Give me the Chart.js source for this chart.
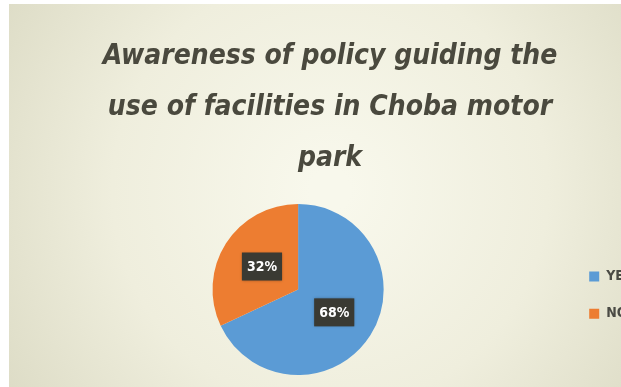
<!DOCTYPE html>
<html>
<head>
<meta charset="utf-8">
<script src="https://cdn.jsdelivr.net/npm/chart.js@4/dist/chart.umd.min.js"></script>
<style>
  html, body { margin: 0; padding: 0; overflow: hidden; background: #ffffff; }
  #wrap { width: 621px; height: 387px; overflow: hidden; position: relative; }
  canvas { position: absolute; left: 0; top: 0; }
</style>
</head>
<body>
<div id="wrap"><canvas id="myChart" width="648" height="387"></canvas></div>
<script>
const titleLines = ["Awareness of policy guiding the", "use of facilities in Choba motor", "park"];
const categories = ["YES", "NO"];
const percentValues = [68, 32];
const sliceColors = ["#5b9bd5", "#ed7d31"];

// beige card behind the chart, white frame on top/left
const backgroundPlugin = {
  id: "cardBackground",
  beforeDraw(chart) {
    const ctx = chart.ctx;
    ctx.save();
    ctx.fillStyle = "#ffffff";
    ctx.fillRect(0, 0, chart.width, chart.height);
    const g = ctx.createRadialGradient(330, 190, 20, 330, 190, 380);
    g.addColorStop(0, "#f8f8ec");
    g.addColorStop(0.55, "#efeedd");
    g.addColorStop(1, "#dddcc6");
    ctx.fillStyle = g;
    ctx.fillRect(9, 4, chart.width - 9, chart.height - 4);
    ctx.restore();
  }
};

// dark boxed percentage labels inside the slices
const boxLabelPlugin = {
  id: "boxLabels",
  afterDatasetsDraw(chart) {
    const ctx = chart.ctx;
    const meta = chart.getDatasetMeta(0);
    ctx.save();
    ctx.font = "bold 14px 'DejaVu Sans Condensed', 'DejaVu Sans', sans-serif";
    ctx.textAlign = "center";
    ctx.textBaseline = "middle";
    meta.data.forEach((arc, i) => {
      const pos = arc.tooltipPosition();
      const text = percentValues[i] + "%";
      const w = ctx.measureText(text).width + 10;
      const h = 28;
      ctx.fillStyle = "#3a3a33";
      ctx.shadowColor = "rgba(0,0,0,0.35)";
      ctx.shadowBlur = 3;
      ctx.fillRect(pos.x - w / 2, pos.y - h / 2, w, h);
      ctx.shadowBlur = 0;
      ctx.fillStyle = "#ffffff";
      ctx.fillText(text, pos.x, pos.y + 1);
    });
    ctx.restore();
  }
};

const ctx = document.getElementById("myChart").getContext("2d");
const chart = new Chart(ctx, {
  type: "pie",
  data: {
    labels: categories,
    datasets: [{
      data: percentValues,
      backgroundColor: sliceColors,
      borderWidth: 0
    }]
  },
  options: {
    responsive: false,
    animation: false,
    devicePixelRatio: 1,
    layout: { padding: { left: 17, right: 5, top: 4, bottom: 12 } },
    plugins: {
      title: {
        display: true,
        text: titleLines,
        color: "#4a493e",
        font: { family: "'DejaVu Sans Condensed', 'DejaVu Sans', sans-serif", size: 28, weight: "bold", style: "italic", lineHeight: 1.82 },
        padding: { top: 27, bottom: 20 }
      },
      legend: {
        position: "right",
        fullSize: false,
        title: { display: true, text: "", padding: 5, font: { size: 12 } },
        labels: {
          boxWidth: 10,
          boxHeight: 10,
          color: "#4a4a44",
          padding: 10,
          font: { family: "'DejaVu Sans Condensed', 'DejaVu Sans', sans-serif", size: 14, weight: "bold", lineHeight: 1.93 },
          generateLabels(c) {
            return c.data.labels.map((lbl, i) => ({
              text: [lbl],
              fillStyle: sliceColors[i],
              strokeStyle: sliceColors[i],
              lineWidth: 0,
              fontColor: "#4a4a44",
              hidden: false,
              index: i
            }));
          }
        }
      },
      tooltip: { enabled: false }
    }
  },
  plugins: [backgroundPlugin, boxLabelPlugin]
});
</script>
</body>
</html>
